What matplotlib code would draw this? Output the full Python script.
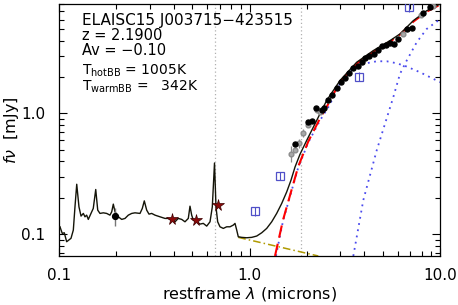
import matplotlib as mpl
mpl.use('Agg')
import matplotlib.pyplot as plt
import numpy as np
from matplotlib.ticker import NullFormatter, LogLocator

plt.rc('font', family='DejaVu Sans')
plt.rc('mathtext', fontset='dejavusans')

# total model / template spectrum (microns, mJy)
spec_lam = [0.1012, 0.1040, 0.1066, 0.1097, 0.1156, 0.1189, 0.1213, 0.1239, 0.1273, 0.1305,
            0.1342, 0.1369, 0.1397, 0.1425, 0.1472, 0.1513, 0.1559, 0.1597, 0.1641, 0.1708,
            0.1779, 0.1852, 0.1891, 0.1928, 0.1968, 0.2048, 0.2134, 0.2221, 0.2311, 0.2408,
            0.2506, 0.2662, 0.2737, 0.2804, 0.2886, 0.2968, 0.3066, 0.3191, 0.3391, 0.3601,
            0.3749, 0.3904, 0.4063, 0.4228, 0.4406, 0.4585, 0.4772, 0.4871, 0.4972, 0.5070,
            0.5283, 0.5497, 0.5721, 0.5961, 0.6205, 0.6379, 0.6551, 0.6669, 0.6807, 0.7000,
            0.7285, 0.7591, 0.7902, 0.8222, 0.8393, 0.8568, 0.8732, 0.9101, 0.9667, 1.027,
            1.091, 1.159, 1.231, 1.308, 1.389, 1.476, 1.568, 1.651, 1.734, 1.841,
            1.997, 2.253, 2.542, 2.986, 3.653, 4.466, 5.465, 6.166, 7.242, 8.514, 10.0]
spec_flux = [0.1149, 0.1013, 0.1025, 0.0864, 0.0922, 0.1079, 0.1681, 0.2588, 0.1681, 0.1409,
             0.1483, 0.1390, 0.1435, 0.1323, 0.1483, 0.1631, 0.2341, 0.1579, 0.1483, 0.1500,
             0.1483, 0.1435, 0.1529, 0.1771, 0.1529, 0.1390, 0.1323, 0.1348, 0.1435, 0.1483,
             0.1500, 0.1483, 0.1631, 0.1884, 0.1579, 0.1463, 0.1483, 0.1435, 0.1390, 0.1348,
             0.1348, 0.1305, 0.1264, 0.1348, 0.1323, 0.1264, 0.1348, 0.1703, 0.1435, 0.1305,
             0.1264, 0.1210, 0.1226, 0.1164, 0.1264, 0.1681, 0.3884, 0.1681, 0.1264, 0.1149,
             0.1114, 0.1149, 0.1149, 0.1187, 0.1226, 0.1079, 0.0950, 0.0939, 0.0932, 0.0939,
             0.0963, 0.1025, 0.1114, 0.1264, 0.1483, 0.1794, 0.2237, 0.2795, 0.3599, 0.4583,
             0.5981, 0.8752, 1.281, 1.874, 2.655, 3.317, 4.012, 4.558, 5.870, 7.100, 8.07]

# sum of blackbodies
bb_lam = [1.361, 1.499, 1.665, 1.804, 2.036, 2.345, 2.646, 2.986, 3.653, 4.466,
          5.465, 6.166, 7.242, 8.514, 10.0]
bb_flux = [0.0658, 0.1305, 0.2341, 0.3648, 0.5869, 0.9092, 1.269, 1.839, 2.590, 3.254,
           3.936, 4.497, 5.759, 6.966, 7.96]

# hot blackbody
hot_lam = [1.377, 1.499, 1.665, 1.804, 2.036, 2.345, 2.646, 2.879, 3.172, 3.507,
           3.957, 4.654, 5.251, 5.926, 6.686, 7.852, 9.610, 10.0]
hot_flux = [0.0658, 0.128, 0.230, 0.358, 0.576, 0.875, 1.187, 1.609, 2.022, 2.355,
            2.575, 2.705, 2.705, 2.604, 2.445, 2.194, 1.874, 1.814]

# warm blackbody
warm_lam = [3.507, 3.957, 4.654, 5.686, 6.166, 6.686, 7.545, 8.514, 9.761]
warm_flux = [0.0658, 0.1910, 0.4945, 1.364, 2.129, 2.742, 3.884, 5.012, 5.870]

# template power-law extension
pl_lam = [0.8732, 2.297]
pl_flux = [0.0939, 0.0658]

# photometry
phot_lam = [1.734, 2.028, 2.121, 2.235, 2.388, 2.461, 2.592, 2.720, 2.869, 3.022,
            3.172, 3.342, 3.507, 3.698, 3.882, 4.040, 4.256, 4.503, 4.710, 4.943,
            5.188, 5.465, 5.756, 6.041, 6.686, 7.101, 8.172, 8.861]
phot_flux = [0.554, 0.843, 0.867, 1.115, 1.059, 1.115, 1.298, 1.409, 1.631, 1.838,
             1.973, 2.170, 2.368, 2.493, 2.690, 2.864, 3.016, 3.114, 3.381, 3.599,
             3.696, 3.811, 3.767, 4.143, 5.012, 5.118, 6.745, 7.661]

gray_lam = [1.645, 1.734, 1.826, 1.916, 2.036, 2.253, 2.345, 6.427, 7.946, 9.19]
gray_flux = [0.4644, 0.4945, 0.568, 0.6876, 0.796, 1.073, 1.019, 4.558, 6.58, 7.81]
gray_err = [0.07, 0.02, 0.05, 0.05, 0.02, 0.02, 0.02, 0.1, 0.1, 0.1]

uv_lam = [0.1968]
uv_flux = [0.1409]
uv_err = [0.025]

sq_lam = [1.069, 1.446, 3.757, 6.876]
sq_flux = [0.1549, 0.3032, 2.022, 7.558]

star_lam = [0.3934, 0.5238, 0.6859]
star_flux = [0.1323, 0.1305, 0.1737]

line_lam = [0.656, 1.87]

W, H = 458, 305
fig = plt.figure(figsize=(W / 100., H / 100.), dpi=100)
ax = fig.add_axes([59. / W, 1 - 256. / H, 381. / W, 252. / H])

for lx in line_lam:
    ax.axvline(lx, color='#b0b0b0', lw=0.9, ls=(0, (1, 2)), zorder=1)

ax.plot(pl_lam, pl_flux, color='#b09a00', lw=1.1, ls=(0, (5, 2, 1, 2)), zorder=2)
ax.plot(hot_lam, hot_flux, color='#4a4aee', lw=1.3, ls=(0, (1, 2.5)), zorder=2)
ax.plot(warm_lam, warm_flux, color='#4a4aee', lw=1.3, ls=(0, (1, 2.5)), zorder=2)
ax.plot(bb_lam, bb_flux, color='red', lw=1.5, ls=(0, (6, 3)), zorder=3)
ax.plot(spec_lam, spec_flux, color='#141408', lw=1.0, zorder=4)

ax.errorbar(gray_lam, gray_flux, yerr=gray_err, fmt='o', ms=3.4, color='#8c8c8c',
            mfc='#a8a8a8', mec='#8c8c8c', elinewidth=0.9, capsize=0, zorder=5)
ax.plot(phot_lam, phot_flux, 'o', ms=3.6, color='black', zorder=6)
ax.errorbar(uv_lam, uv_flux, yerr=uv_err, fmt='o', ms=4.2, color='black',
            ecolor='#777777', elinewidth=1.0, capsize=0, zorder=6)
ax.errorbar(sq_lam, sq_flux, yerr=[[f * 0.08 for f in sq_flux], [f * 0.08 for f in sq_flux]],
            fmt='s', ms=6, mfc='none', mec='#5050c8', mew=0.9, ecolor='#5050c8',
            elinewidth=0.8, capsize=0, zorder=6)
ax.plot(star_lam, star_flux, '*', ms=8.5, mfc='#8b0a0a', mec='#3a0000', mew=0.5, zorder=7)

ax.set_xscale('log')
ax.set_yscale('log')
ax.set_xlim(0.1, 10.0)
ax.set_ylim(0.0658, 8.07)

ax.set_xticks([0.1, 1.0, 10.0])
ax.set_xticklabels(['0.1', '1.0', '10.0'])
ax.set_yticks([0.1, 1.0])
ax.set_yticklabels(['0.1', '1.0'])
ax.xaxis.set_minor_locator(LogLocator(base=10, subs=np.arange(2, 10)))
ax.yaxis.set_minor_locator(LogLocator(base=10, subs=np.arange(2, 10)))
ax.xaxis.set_minor_formatter(NullFormatter())
ax.yaxis.set_minor_formatter(NullFormatter())
ax.tick_params(which='both', direction='in', top=True, right=True, width=0.8, labelsize=11)
ax.tick_params(which='major', length=6)
ax.tick_params(which='minor', length=3.5)
ax.tick_params(axis='x', which='major', pad=9)
ax.tick_params(axis='y', which='major', pad=10)
for s in ax.spines.values():
    s.set_linewidth(0.9)

ax.set_xlabel(r'restframe $\lambda$ (microns)', fontsize=11.5, labelpad=1)
ax.set_ylabel(r'$f\nu$  [mJy]', fontsize=11.5, labelpad=0)

tx = 0.060
ax.text(tx, 0.9147, 'ELAISC15 J003715\u2212423515', transform=ax.transAxes,
        fontsize=11, va='baseline')
ax.text(tx, 0.8587, 'z = 2.1900', transform=ax.transAxes, fontsize=10.5, va='baseline')
ax.text(tx, 0.7988, 'Av = \u22120.10', transform=ax.transAxes, fontsize=10.5, va='baseline')
ax.text(tx, 0.7214, r'T$_{\rm hotBB}$ = 1005K', transform=ax.transAxes, fontsize=10,
        va='baseline')
ax.text(tx, 0.6579, r'T$_{\rm warmBB}$ =   342K', transform=ax.transAxes, fontsize=10,
        va='baseline')

fig.savefig('out.png', dpi=100)
